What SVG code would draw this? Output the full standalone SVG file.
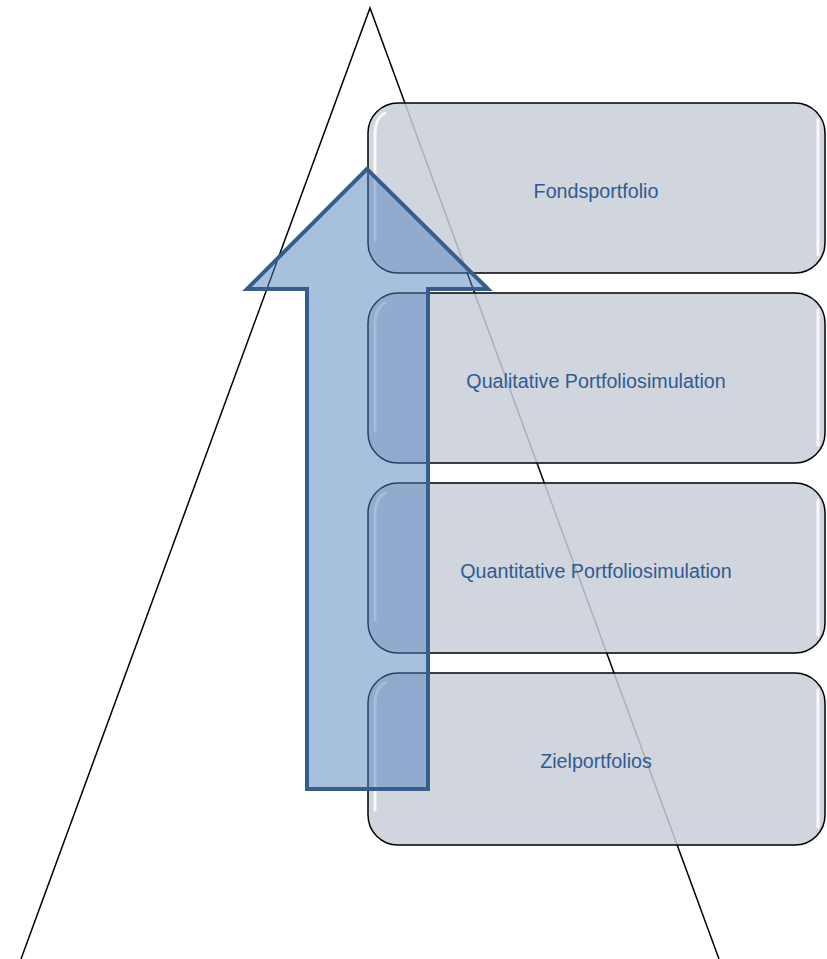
<svg xmlns="http://www.w3.org/2000/svg" width="827" height="959" viewBox="0 0 827 959">
<defs>
<style>
.box{fill:#c9ced8;fill-opacity:0.85;stroke:#000;stroke-width:1.5}
.hl{fill:none;stroke:#fff;stroke-width:3;stroke-linecap:round;opacity:0.85}
.lbl{font-family:"Liberation Sans",Arial,sans-serif;font-size:19.7px;fill:#2f5b91;text-anchor:middle}
</style>
</defs>
<rect width="827" height="959" fill="#fff"/>
<g id="triangle">
<polyline points="21,959 370,8 719,959" fill="none" stroke="#000" stroke-width="1.5"/>
</g>
<g id="box1">
<rect class="box" x="368" y="103" width="457" height="170" rx="30"/>
<path class="hl" d="M375,240 V135 Q375,118 385,113"/>
<path class="hl" d="M818,120 V255"/>
<text class="lbl" x="596" y="198">Fondsportfolio</text>
</g>
<g id="box2">
<rect class="box" x="368" y="293" width="457" height="170" rx="30"/>
<path class="hl" d="M375,430 V325 Q375,308 385,303"/>
<path class="hl" d="M818,310 V445"/>
<text class="lbl" x="596" y="388">Qualitative Portfoliosimulation</text>
</g>
<g id="box3">
<rect class="box" x="368" y="483" width="457" height="170" rx="30"/>
<path class="hl" d="M375,620 V515 Q375,498 385,493"/>
<path class="hl" d="M818,500 V635"/>
<text class="lbl" x="596" y="578">Quantitative Portfoliosimulation</text>
</g>
<g id="box4">
<rect class="box" x="368" y="673" width="457" height="172" rx="30"/>
<path class="hl" d="M375,810 V705 Q375,688 385,683"/>
<path class="hl" d="M818,690 V827"/>
<text class="lbl" x="596" y="768">Zielportfolios</text>
</g>
<g id="arrow">
<polygon points="367,169 247,289 307,289 307,789 428,789 428,289 488,289" fill="#4f81bd" fill-opacity="0.5" stroke="#385d8a" stroke-width="4" stroke-linejoin="miter"/>
</g>
</svg>
